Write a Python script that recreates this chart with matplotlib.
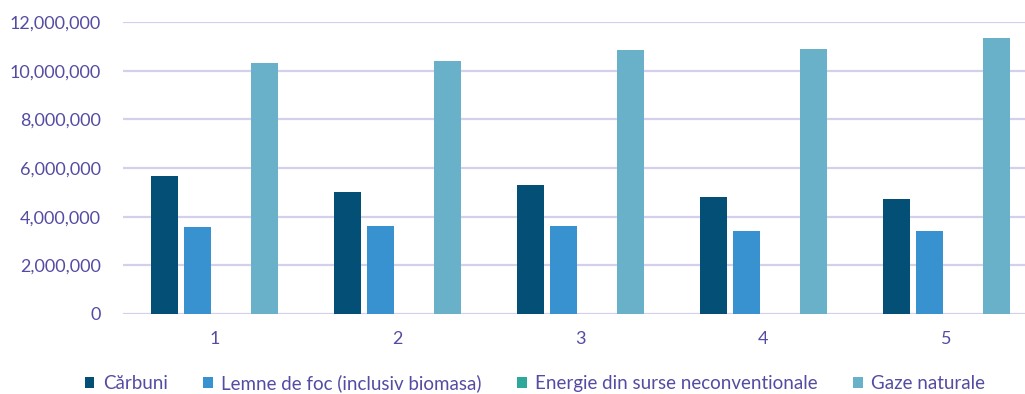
import numpy as np
import matplotlib
matplotlib.use('Agg')
import matplotlib.pyplot as plt
from matplotlib.ticker import FuncFormatter

# date
categorii = ['1', '2', '3', '4', '5']
carbuni = [5670000, 5000000, 5300000, 4820000, 4730000]
lemne = [3560000, 3600000, 3620000, 3410000, 3410000]
energie = [0, 0, 0, 0, 0]
gaze = [10330000, 10400000, 10850000, 10880000, 11330000]

serii = ['Cărbuni', 'Lemne de foc (inclusiv biomasa)',
         'Energie din surse neconventionale', 'Gaze naturale']
culori = ['#034f75', '#3892cf', '#2ea89a', '#68b1c9']
text_col = '#544ca3'

plt.rcParams['font.family'] = ['Lato', 'DejaVu Sans']

fig = plt.figure(figsize=(10.25, 3.94), dpi=100)
ax = fig.add_axes([123 / 1025, 80 / 394, 902 / 1025, 292 / 394])

x = np.arange(len(categorii))
step = 0.182
w = 0.147
valori = [carbuni, lemne, energie, gaze]
for i, (v, c, n) in enumerate(zip(valori, culori, serii)):
    ax.bar(x + (i - 1.5) * step, v, width=w, color=c, label=n, zorder=3)

ax.set_ylim(0, 12000000)
ax.set_yticks(np.arange(0, 12000001, 2000000))
ax.yaxis.set_major_formatter(FuncFormatter(lambda v, p: f'{int(v):,}'))
ax.set_xlim(-0.5, 4.43)
ax.set_xticks(x)
ax.set_xticklabels(categorii)

ax.grid(axis='y', color='#d3cfec', linewidth=1.6, zorder=0)
ax.set_axisbelow(True)
for s in ax.spines.values():
    s.set_visible(False)
ax.tick_params(axis='both', length=0, labelsize=13, colors=text_col)
ax.tick_params(axis='y', pad=16)
ax.tick_params(axis='x', pad=12)

leg = fig.legend(loc='center', bbox_to_anchor=(0.522, 11 / 394), ncol=4,
                 frameon=False, fontsize=13.5, handlelength=0.5, handleheight=0.5,
                 handletextpad=0.45, columnspacing=1.9)
for t in leg.get_texts():
    t.set_color(text_col)

fig.savefig('out.png', dpi=100)
plt.close()
